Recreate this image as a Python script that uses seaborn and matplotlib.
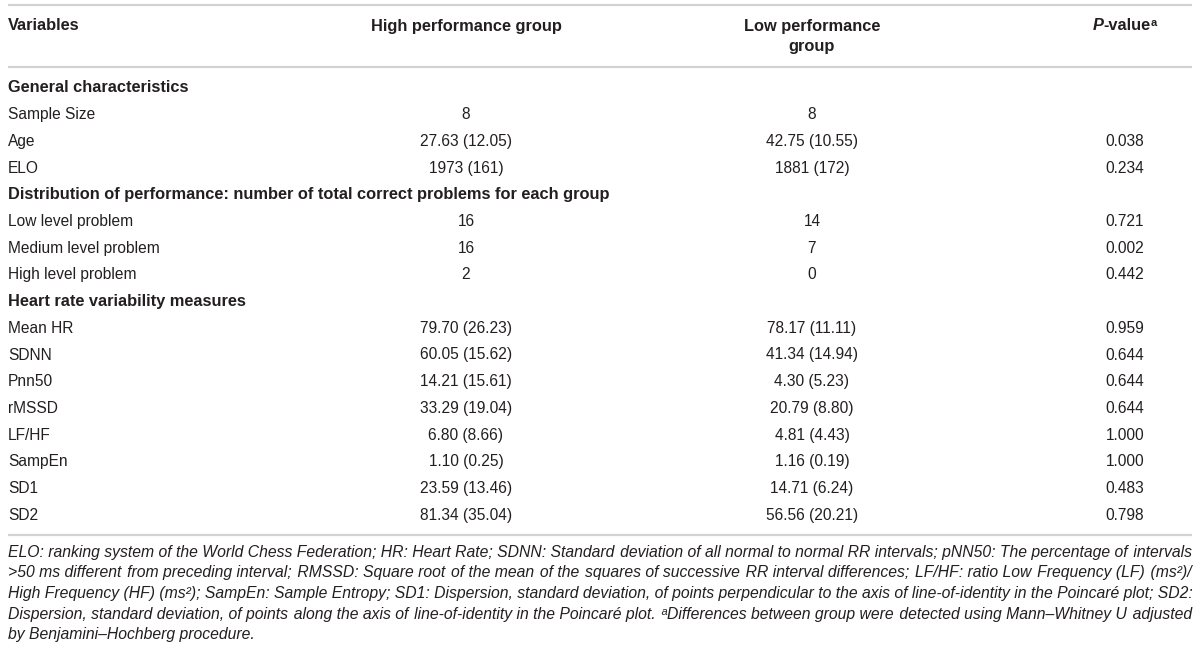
import matplotlib
matplotlib.use("Agg")
import matplotlib.pyplot as plt
import seaborn as sns

# ---- table content ----
sections = [
    "General characteristics",
    "Distribution of performance: number of total correct problems for each group",
    "Heart rate variability measures",
]

general_vars = ["Sample Size", "Age", "ELO"]
general_high = ["8", "27.63 (12.05)", "1973 (161)"]
general_low = ["8", "42.75 (10.55)", "1881 (172)"]
general_p = ["", "0.038", "0.234"]

problem_vars = ["Low level problem", "Medium level problem", "High level problem"]
problem_high = ["16", "16", "2"]
problem_low = ["14", "7", "0"]
problem_p = ["0.721", "0.002", "0.442"]

hrv_vars = ["Mean HR", "SDNN", "Pnn50", "rMSSD", "LF/HF", "SampEn", "SD1", "SD2"]
hrv_high = ["79.70 (26.23)", "60.05 (15.62)", "14.21 (15.61)", "33.29 (19.04)",
            "6.80 (8.66)", "1.10 (0.25)", "23.59 (13.46)", "81.34 (35.04)"]
hrv_low = ["78.17 (11.11)", "41.34 (14.94)", "4.30 (5.23)", "20.79 (8.80)",
           "4.81 (4.43)", "1.16 (0.19)", "14.71 (6.24)", "56.56 (20.21)"]
hrv_p = ["0.959", "0.644", "0.644", "0.644", "1.000", "1.000", "0.483", "0.798"]

footnote_lines = [
    "ELO: ranking system of the World Chess Federation; HR: Heart Rate; SDNN: Standard deviation of all normal to normal RR intervals; pNN50: The percentage of intervals",
    ">50 ms different from preceding interval; RMSSD: Square root of the mean of the squares of successive RR interval differences; LF/HF: ratio Low Frequency (LF) (ms²)/",
    "High Frequency (HF) (ms²); SampEn: Sample Entropy; SD1: Dispersion, standard deviation, of points perpendicular to the axis of line-of-identity in the Poincaré plot; SD2:",
    "Dispersion, standard deviation, of points along the axis of line-of-identity in the Poincaré plot. ᵃDifferences between group were detected using Mann–Whitney U adjusted",
    "by Benjamini–Hochberg procedure.",
]

# ---- style ----
sns.set_theme(style="white")
plt.rcParams["font.family"] = ["Liberation Sans", "DejaVu Sans"]
plt.rcParams["text.parse_math"] = False

TXT = "#231f20"
RULE = "#d2d2d2"
FS = 11.2
FS_BOLD = 11.8
FS_NOTE = 11.3
BASE = 4.5  # baseline offset from the row centre (px)
HAIR = "\u200a"

fig = plt.figure(figsize=(12, 6.5), dpi=100)
ax = fig.add_axes([0, 0, 1, 1])
ax.set_xlim(0, 1200)
ax.set_ylim(650, 0)
ax.axis("off")

x_left, x_right = 8, 1192
x_high, x_low, x_p = 466, 812, 1125

# rules
ax.hlines([5, 67, 535], x_left, x_right, color=RULE, lw=1.6)

# header
hy = 26 + BASE
ax.text(x_left, hy, "Variables", fontsize=FS_BOLD, fontweight="bold", color=TXT, va="baseline")
ax.text(x_high, hy, "High performance group", fontsize=FS_BOLD, fontweight="bold",
        color=TXT, ha="center", va="baseline")
ax.text(x_low, hy, "Low performance", fontsize=FS_BOLD, fontweight="bold",
        color=TXT, ha="center", va="baseline")
ax.text(x_low, hy + 21, "group", fontsize=FS_BOLD, fontweight="bold",
        color=TXT, ha="center", va="baseline")

fig.canvas.draw()
renderer = fig.canvas.get_renderer()


def width_of(t):
    return t.get_window_extent(renderer).width


# P-value header built from pieces (italic P, bold text, superscript a)
pieces = [("P", "italic", FS_BOLD, 0), ("-value", "normal", FS_BOLD, 0),
          ("a", "normal", FS_BOLD * 0.68, -5)]
objs = []
for s, st, fs, off in pieces:
    t = ax.text(0, hy + off, s, fontsize=fs, fontweight="bold", fontstyle=st,
                color=TXT, va="baseline")
    objs.append(t)
widths = [width_of(t) for t in objs]
x = x_p - sum(widths) / 2
for t, w in zip(objs, widths):
    t.set_x(x)
    x += w

# body rows
rows = []
groups = [
    (general_vars, general_high, general_low, general_p),
    (problem_vars, problem_high, problem_low, problem_p),
    (hrv_vars, hrv_high, hrv_low, hrv_p),
]
for sec, (vs, hs, ls, ps) in zip(sections, groups):
    rows.append((sec, "", "", "", True))
    for v, h, l, p in zip(vs, hs, ls, ps):
        rows.append((v, h, l, p, False))

y0, dy = 88, 26.7
for i, (v, h, l, p, is_sec) in enumerate(rows):
    y = y0 + i * dy + BASE
    if is_sec:
        ax.text(x_left, y, v, fontsize=FS_BOLD, color=TXT, va="baseline", fontweight="bold")
    else:
        ax.text(x_left, y, v, fontsize=FS, color=TXT, va="baseline")
    ax.text(x_high, y, h, fontsize=FS, color=TXT, ha="center", va="baseline")
    ax.text(x_low, y, l, fontsize=FS, color=TXT, ha="center", va="baseline")
    ax.text(x_p, y, p, fontsize=FS, color=TXT, ha="center", va="baseline")

# footnote: one text per line, justified by padding the word gaps with hair spaces
probe_a = ax.text(0, 0, "a" + HAIR * 10 + "a", fontsize=FS_NOTE, fontstyle="italic")
probe_b = ax.text(0, 0, "aa", fontsize=FS_NOTE, fontstyle="italic")
hair_w = (width_of(probe_a) - width_of(probe_b)) / 10
probe_a.remove()
probe_b.remove()

fy0, fdy = 552, 20.7
full_w = x_right - x_left
for i, line in enumerate(footnote_lines):
    y = fy0 + i * fdy + BASE
    t = ax.text(x_left, y, line, fontsize=FS_NOTE, fontstyle="italic",
                color=TXT, va="baseline")
    if i < len(footnote_lines) - 1 and hair_w > 0:
        words = line.split(" ")
        n_gaps = len(words) - 1
        extra = int(round((full_w - width_of(t)) / hair_w))
        if extra > 0:
            out = words[0]
            for g, w in enumerate(words[1:]):
                k = extra * (g + 1) // n_gaps - extra * g // n_gaps
                out += " " + HAIR * k + w
            t.set_text(out)

fig.savefig("out.png", dpi=100, facecolor="white")
